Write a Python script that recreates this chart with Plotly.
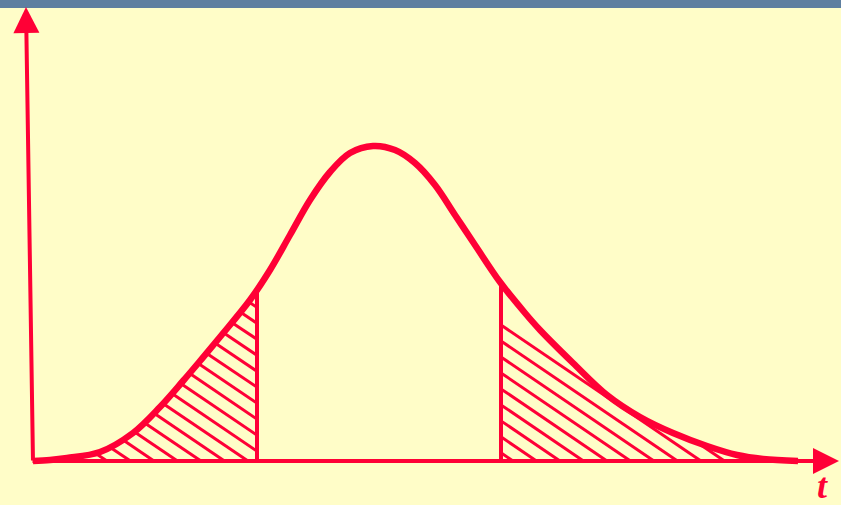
import numpy as np
import plotly.graph_objects as go

# Curve (t, density), arbitrary units
t_vals = [0, 17, 34, 67, 100, 127, 150, 167, 187, 217, 237, 257, 277, 297, 317, 340,
          362, 382, 402, 422, 442, 467, 492, 507, 540, 574, 607, 640, 674, 704, 730, 765]
density = [0, 1, 3, 9, 28, 54, 80, 100, 124, 161, 191, 226, 261, 289, 308, 315,
           311, 298, 276, 246, 216, 179, 148, 131, 98, 66, 44, 28, 15, 6, 2, 0]

left_cut = 224     # lower critical value
right_cut = 468    # upper critical value
t_axis_end = 806
y_axis_top = [-7, 454]

RED = "#FF0036"
BG = "#FFFDC8"
BAND = "#5F7FA0"

hatch_slope = 0.68
hatch_spacing = 23.5


def f(x):
    return np.interp(x, t_vals, density)


def hatch(a, b, start):
    xs, ys = [], []
    x_end = b + f(b) / hatch_slope
    x0 = start
    while x0 > a:
        x0 -= hatch_spacing
    x0 += hatch_spacing
    while x0 < x_end:
        if x0 <= b:
            lx, ly = x0, 0.0
        else:
            ly = hatch_slope * (x0 - b)
            lx = b
            if ly >= f(b):
                x0 += hatch_spacing
                continue
        ux, uy = None, None
        for x in np.arange(lx, a - 0.001, -0.25):
            y = hatch_slope * (x0 - x)
            if y >= f(x):
                ux, uy = x, f(x)
                break
        if ux is None:
            ux, uy = a, hatch_slope * (x0 - a)
        if np.hypot(lx - ux, ly - uy) > 3:
            xs += [ux, lx, None]
            ys += [uy, ly, None]
        x0 += hatch_spacing
    return xs, ys


hx1, hy1 = hatch(0, left_cut, 74)
hx2, hy2 = hatch(right_cut, t_vals[-1], 480)

fig = go.Figure()
fig.add_trace(go.Scatter(x=hx1 + hx2, y=hy1 + hy2, mode="lines",
                         line=dict(color=RED, width=3), hoverinfo="skip"))
for c in (left_cut, right_cut):
    fig.add_trace(go.Scatter(x=[c, c], y=[0, float(f(c))], mode="lines",
                             line=dict(color=RED, width=4), hoverinfo="skip"))
fig.add_trace(go.Scatter(x=t_vals, y=density, mode="lines",
                         line=dict(color=RED, width=6.5, shape="spline", smoothing=1.0),
                         hoverinfo="skip"))

# axes with arrows
fig.add_annotation(x=t_axis_end, y=0, ax=-2, ay=0, axref="x", ayref="y",
                   xref="x", yref="y", text="", showarrow=True, arrowhead=2,
                   arrowsize=1.3, arrowwidth=4, arrowcolor=RED, standoff=0)
fig.add_annotation(x=y_axis_top[0], y=y_axis_top[1], ax=0, ay=-1, axref="x", ayref="y",
                   xref="x", yref="y", text="", showarrow=True, arrowhead=2,
                   arrowsize=1.3, arrowwidth=4, arrowcolor=RED, standoff=0)
fig.add_annotation(x=789, y=-25, xref="x", yref="y", text="<b><i>t</i></b>",
                   showarrow=False,
                   font=dict(family="Liberation Serif", size=36, color=RED))

# top band
fig.add_shape(type="rect", xref="paper", yref="paper", x0=0, x1=1, y0=1 - 8 / 505, y1=1,
              fillcolor=BAND, line=dict(width=0), layer="above")

fig.update_layout(
    width=841, height=505,
    margin=dict(l=0, r=0, t=0, b=0),
    paper_bgcolor=BG, plot_bgcolor=BG,
    showlegend=False,
    xaxis=dict(range=[-33, 808], visible=False, fixedrange=True),
    yaxis=dict(range=[-44, 461], visible=False, fixedrange=True),
)

fig.write_html("out.html", config={"displayModeBar": False},
               post_script="document.body.style.margin='0';")
